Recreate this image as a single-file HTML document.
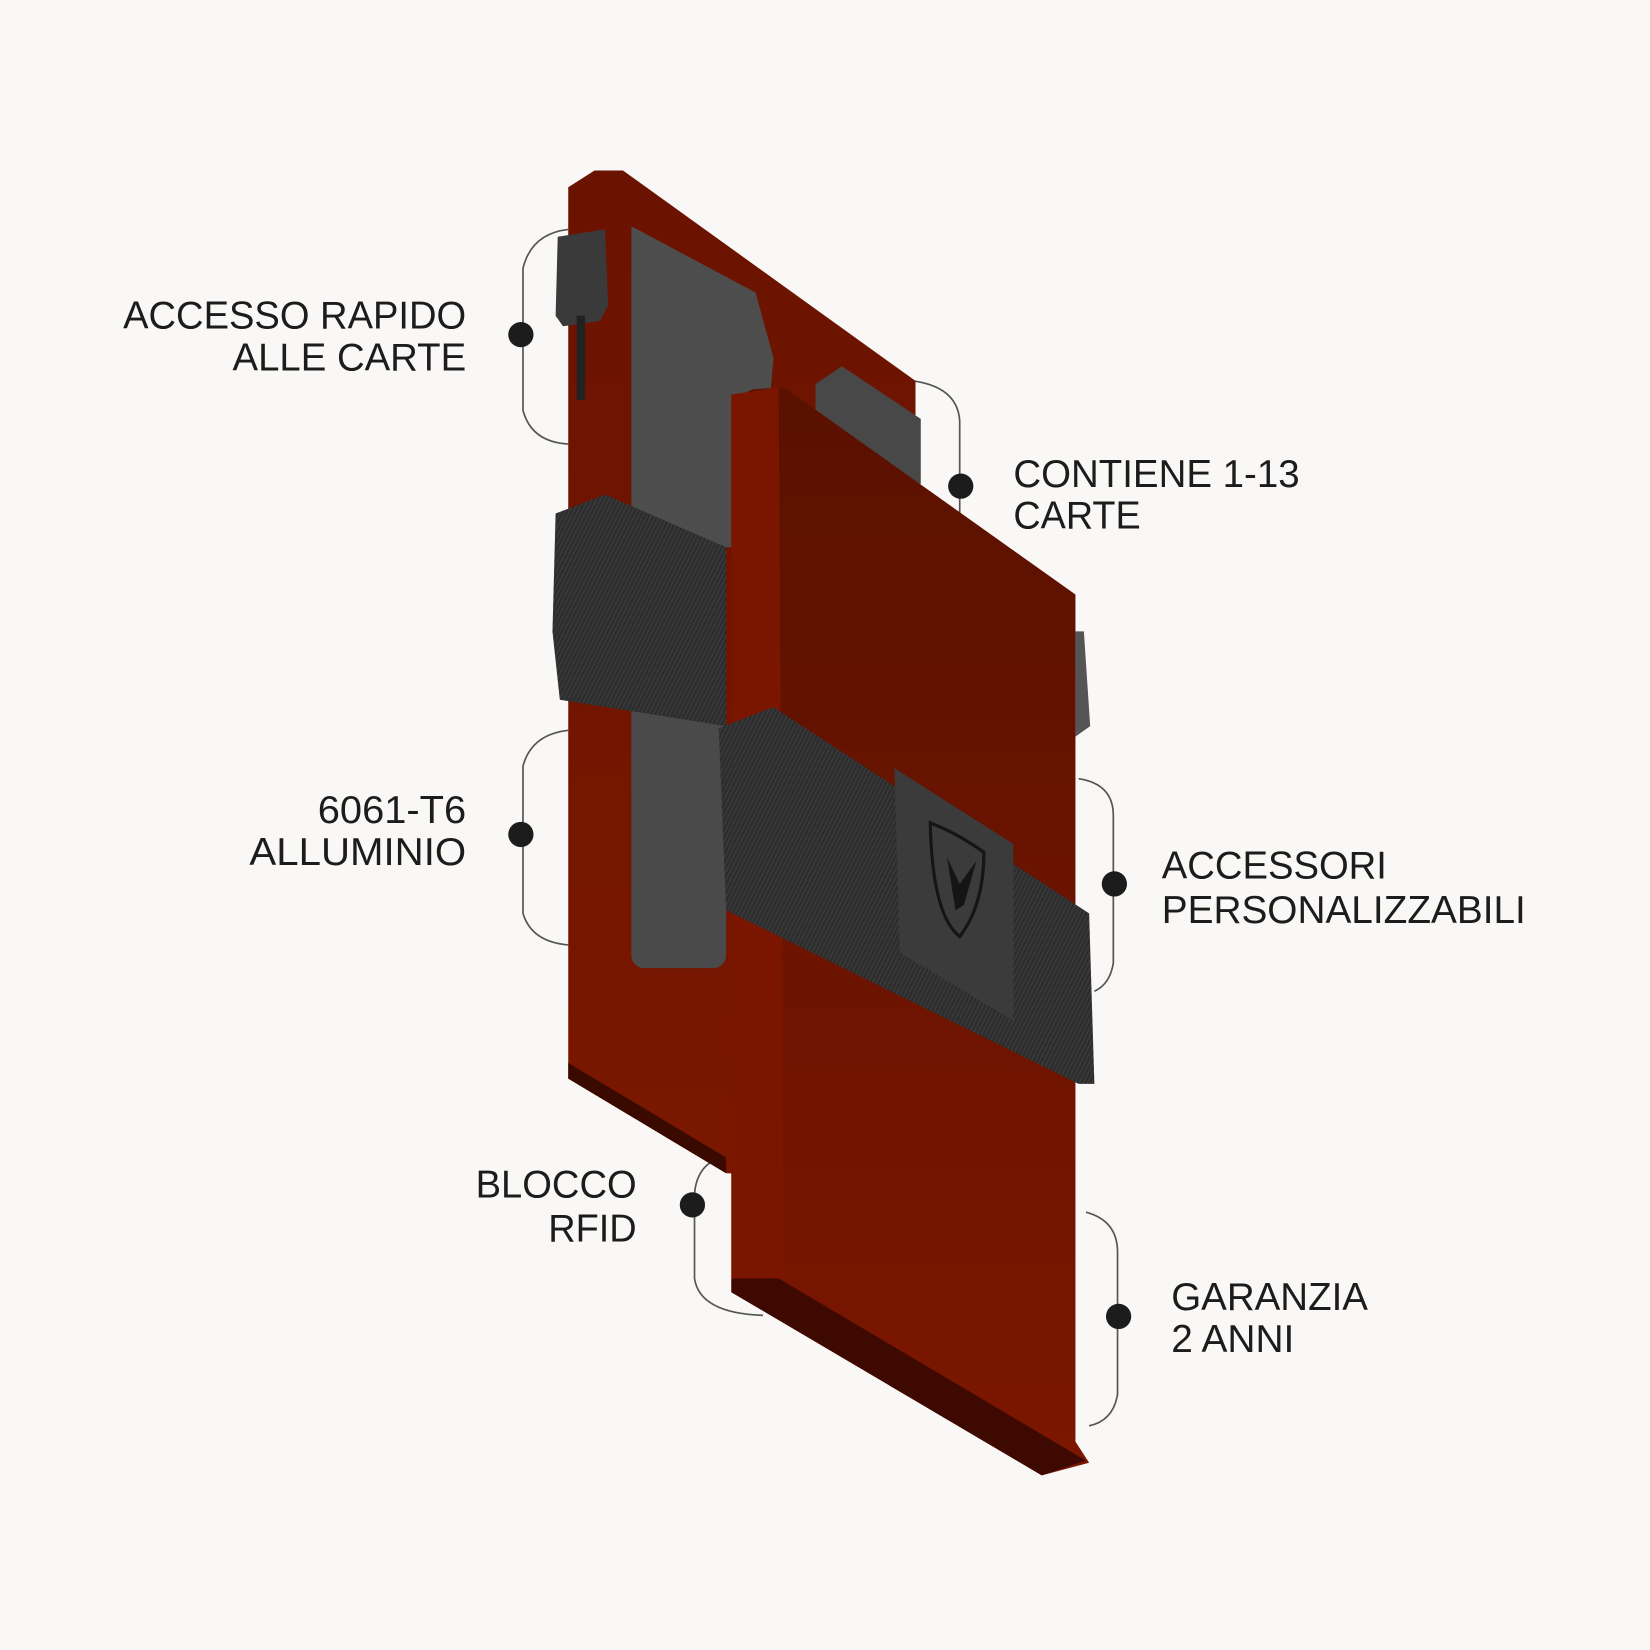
<!DOCTYPE html>
<html><head><meta charset="utf-8"><style>html,body{margin:0;padding:0;background:#f9f8f6}svg{display:block}</style></head>
<body>
<svg width="1650" height="1650" viewBox="0 0 1568 1568" xmlns="http://www.w3.org/2000/svg">
<defs>
<linearGradient id="fr" x1="0" y1="0" x2="0" y2="1"><stop offset="0" stop-color="#5a1100"/><stop offset="1" stop-color="#7c1600"/></linearGradient>
<linearGradient id="bk" x1="0" y1="0" x2="0" y2="1"><stop offset="0" stop-color="#6a1300"/><stop offset="1" stop-color="#7a1700"/></linearGradient>
<pattern id="weave" width="8" height="8" patternUnits="userSpaceOnUse"><rect width="8" height="8" fill="#2c2c2c"/><path d="M0 8L4 0M4 8L8 0" stroke="#3a3a3a" stroke-width="1.5"/></pattern>
</defs>
<rect width="1568" height="1568" fill="#f9f8f6"/>
<g fill="none" stroke="#555" stroke-width="1.6">
<path d="M540 218 Q505 222 497 255 L497 390 Q505 420 540 422"/>
<path d="M540 694 Q505 698 497 728 L497 868 Q505 895 540 898"/>
<path d="M690 1098 Q662 1105 660 1135 L660 1215 Q665 1248 725 1250"/>
<path d="M868 362 Q910 368 912 400 L912 490"/>
<path d="M1025 740 Q1058 745 1058 775 L1058 915 Q1055 935 1040 942"/>
<path d="M1032 1152 Q1062 1160 1062 1190 L1062 1325 Q1058 1350 1035 1355"/>
</g>
<g fill="#1c1c1c"><circle cx="495" cy="318" r="12"/><circle cx="495" cy="793" r="12"/><circle cx="658" cy="1145" r="12"/><circle cx="913" cy="462" r="12"/><circle cx="1059" cy="840" r="12"/><circle cx="1063" cy="1251" r="12"/></g>
<polygon points="540,178 565,162 592,162 870,362 870,1120 690,1115 540,1025" fill="url(#bk)"/>
<polygon points="540,1010 690,1100 690,1115 540,1025" fill="#3a0a00"/>
<polygon points="600,215 718,278 735,340 720,520 600,520" fill="#4d4d4d"/>
<rect x="600" y="655" width="90" height="265" rx="12" fill="#4a4a4a"/>
<polygon points="775,365 800,348 875,398 875,460 775,460" fill="#484848"/>
<polygon points="530,225 575,218 578,290 570,305 535,310 528,300" fill="#3a3a3a"/>
<rect x="548" y="300" width="8" height="80" fill="#222"/>
<polygon points="528,488 575,470 690,520 690,690 532,665 525,600" fill="url(#weave)"/>
<polygon points="695,380 715,370 745,368 1022,565 1022,1370 1035,1390 990,1402 695,1228" fill="url(#fr)"/>
<polygon points="695,375 740,368 745,1215 695,1215" fill="#7a1500"/>
<polygon points="695,1215 740,1215 1032,1388 990,1402 695,1228" fill="#3d0900"/>
<polygon points="1022,600 1030,600 1036,690 1022,700" fill="#555"/>
<polygon points="683,692 735,672 1035,868 1040,1030 1025,1030 690,865" fill="url(#weave)"/>
<polygon points="850,730 963,802 963,970 855,905" fill="#3b3b3b"/>
<path d="M884 782 Q910 792 935 810 Q935 860 912 890 Q886 870 884 782Z" fill="none" stroke="#151515" stroke-width="3"/>
<path d="M900 815 L912 840 L928 818 L916 860 L908 865Z" fill="#151515"/>
<g font-family="Liberation Sans, sans-serif" font-size="37" fill="#1c1c1c" lengthAdjust="spacingAndGlyphs">
<text x="443" y="312" text-anchor="end" textLength="326" lengthAdjust="spacingAndGlyphs">ACCESSO RAPIDO</text>
<text x="443" y="352" text-anchor="end" textLength="222" lengthAdjust="spacingAndGlyphs">ALLE CARTE</text>
<text x="443" y="782" text-anchor="end" textLength="141" lengthAdjust="spacingAndGlyphs">6061-T6</text>
<text x="443" y="822" text-anchor="end" textLength="206" lengthAdjust="spacingAndGlyphs">ALLUMINIO</text>
<text x="605" y="1138" text-anchor="end" textLength="153" lengthAdjust="spacingAndGlyphs">BLOCCO</text>
<text x="605" y="1180" text-anchor="end" textLength="84" lengthAdjust="spacingAndGlyphs">RFID</text>
<text x="963" y="463" textLength="272" lengthAdjust="spacingAndGlyphs">CONTIENE 1-13</text>
<text x="963" y="502" textLength="121" lengthAdjust="spacingAndGlyphs">CARTE</text>
<text x="1104" y="835" textLength="214" lengthAdjust="spacingAndGlyphs">ACCESSORI</text>
<text x="1104" y="877" textLength="346" lengthAdjust="spacingAndGlyphs">PERSONALIZZABILI</text>
<text x="1113" y="1245" textLength="187" lengthAdjust="spacingAndGlyphs">GARANZIA</text>
<text x="1113" y="1285" textLength="117" lengthAdjust="spacingAndGlyphs">2 ANNI</text>
</g>
</svg>
</body></html>
